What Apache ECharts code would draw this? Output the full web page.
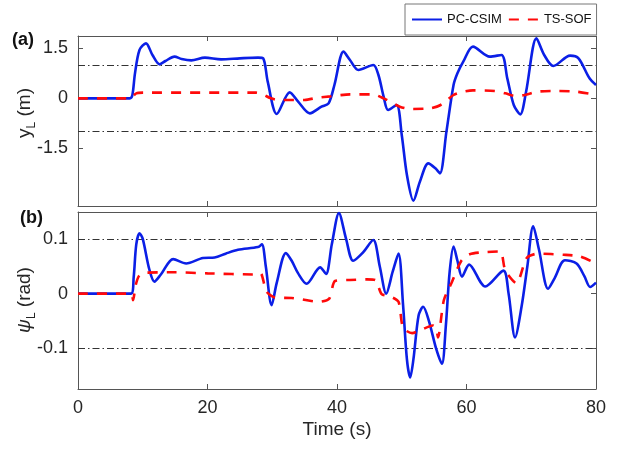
<!DOCTYPE html>
<html>
<head>
<meta charset="utf-8">
<script src="https://cdn.jsdelivr.net/npm/echarts@6/dist/echarts.min.js"></script>
<style>
  html, body { margin: 0; padding: 0; background: #fff; }
  #chart { width: 621px; height: 451px; }
</style>
</head>
<body>
<div id="chart"></div>
<script>
// (a) lateral offset y_L (m)
const tCsimA = [0, 8, 8.4, 8.8, 9.5, 10.5, 11.5, 12.6, 13.5, 14.9, 16, 17.5, 19.6, 22.1, 25, 27.8, 28.6, 29.3, 30.7, 32.7, 34, 35.8, 37.6, 38.7, 39.6, 41.0, 42, 43.3, 45.6, 46.4, 47.2, 47.9, 49.2, 50.0, 50.8, 51.8, 52.8, 54.1, 55.2, 55.9, 56.9, 58.0, 58.6, 59.5, 61.0, 63.6, 65.4, 66.3, 67.3, 68.3, 69.2, 70.8, 72, 73.4, 76.0, 77.3, 79, 80];
const yCsimA = [0, 0, 0.1, 0.75, 1.45, 1.65, 1.3, 1.02, 1.12, 1.25, 1.18, 1.14, 1.22, 1.17, 1.2, 1.22, 1.2, 0.5, -0.47, 0.18, -0.1, -0.45, -0.25, -0.15, 0.4, 1.4, 1.15, 0.85, 1.0, 0.7, 0.05, -0.35, -0.2, -1.1, -2.3, -3.07, -2.5, -1.95, -2.1, -2.25, -1.0, 0.4, 0.75, 1.1, 1.55, 1.25, 1.3, 0.6, -0.2, -0.48, 0.2, 1.8, 1.3, 0.97, 1.28, 1.2, 0.6, 0.4];
const tSofA = [0, 8, 9, 10, 27.5, 28.5, 29.8, 31, 35, 37, 39, 42, 45.5, 47.2, 49.7, 51.5, 54.4, 56, 58, 59.5, 61, 64.5, 66, 67.5, 69, 71, 74, 77, 80];
const ySofA = [0, 0, 0.15, 0.17, 0.17, 0.12, 0, -0.05, -0.05, 0.02, 0.06, 0.12, 0.12, 0, -0.25, -0.32, -0.3, -0.2, 0.1, 0.2, 0.24, 0.22, 0.15, 0.07, 0.1, 0.2, 0.22, 0.2, 0.1];

// (b) heading error psi_L (rad)
const tCsimB = [0, 8.2, 8.6, 9.0, 9.5, 10, 11, 11.8, 12.8, 14.7, 16.7, 19.3, 21.1, 22.8, 24.7, 27.8, 28.4, 29, 29.9, 30.7, 32.1, 33, 34.0, 35.3, 37.4, 38.3, 39.2, 40.3, 41.4, 42.5, 44, 45.6, 46.6, 47.6, 48.6, 49.5, 50.2, 50.8, 51.3, 51.8, 52.6, 53.3, 54.2, 55.3, 56.2, 56.8, 57.4, 58.0, 58.6, 59.3, 60.4, 62.9, 65.7, 66.5, 67.5, 68.5, 69.4, 70.3, 71.2, 72.6, 73.6, 75.2, 77, 78.2, 79.1, 80];
const yCsimB = [0, 0, 0.03, 0.09, 0.11, 0.1, 0.045, 0.022, 0.035, 0.063, 0.055, 0.065, 0.066, 0.073, 0.08, 0.085, 0.09, 0.05, -0.021, 0.02, 0.074, 0.06, 0.037, 0.018, 0.048, 0.036, 0.09, 0.147, 0.1, 0.06, 0.075, 0.098, 0.05, 0.0, 0.04, 0.073, -0.02, -0.12, -0.153, -0.12, -0.04, -0.024, -0.05, -0.1, -0.128, -0.06, 0.04, 0.086, 0.06, 0.031, 0.053, 0.013, 0.042, 0.0, -0.08, -0.024, 0.05, 0.123, 0.08, 0.009, 0.028, 0.061, 0.055, 0.032, 0.012, 0.02];
const tSofB = [0, 8.2, 8.5, 8.9, 9.4, 10.2, 15, 20, 27.5, 28.2, 29.1, 30.4, 33, 34.3, 37.2, 38.8, 39.7, 42, 44.6, 45.9, 46.9, 48.2, 49.5, 50.2, 51.6, 53, 54.8, 55.3, 55.6, 56.5, 57.7, 59.2, 60.5, 63.1, 65.2, 66.0, 67.7, 69.3, 71, 75, 77.5, 80];
const ySofB = [0, 0, -0.012, 0.015, 0.032, 0.038, 0.039, 0.037, 0.035, 0.037, 0.004, -0.007, -0.008, -0.01, -0.015, -0.009, 0.023, 0.025, 0.026, 0.025, -0.001, -0.005, -0.015, -0.062, -0.072, -0.066, -0.058, -0.062, -0.08, -0.012, 0.02, 0.06, 0.072, 0.076, 0.077, 0.042, 0.019, 0.065, 0.073, 0.071, 0.068, 0.055];

const timeTicks = [0, 20, 40, 60, 80];
const yTicksA = [-1.5, 0, 1.5];
const yTicksB = [-0.1, 0, 0.1];
const limitsA = [-1, 1];
const limitsB = [-0.1, 0.1];

const font = '"Liberation Sans", Arial, Helvetica, sans-serif';
const frame = '#555';
const txt = '#262626';

const pairs = (t, v) => t.map((x, i) => [x, v[i]]);

const timeAxis = (grid, pos, labels) => ({
    type: 'value', gridIndex: grid, position: pos,
    min: timeTicks[0], max: timeTicks[timeTicks.length - 1], interval: 20,
    axisLine: { show: true, onZero: false, lineStyle: { color: frame, width: 1 } },
    axisTick: { show: true, inside: true, length: 5, lineStyle: { color: frame } },
    axisLabel: { show: labels, margin: 10, color: txt, fontSize: 18, fontFamily: font },
    splitLine: { show: false }
});

const valueAxis = (grid, pos, min, max, ticks, labels) => ({
    type: 'value', gridIndex: grid, position: pos,
    min: min, max: max,
    axisLine: { show: true, onZero: false, lineStyle: { color: frame, width: 1 } },
    axisTick: { show: true, inside: true, length: 5, customValues: ticks, lineStyle: { color: frame } },
    axisLabel: { show: labels, margin: 10, customValues: ticks, color: txt, fontSize: 18, fontFamily: font },
    splitLine: { show: false }
});

const limitLines = (vals) => ({
    silent: true, symbol: 'none', z: 1,
    label: { show: false },
    lineStyle: { color: '#333', width: 1, type: [7, 3, 1.5, 3] },
    data: vals.map(v => ({ yAxis: v }))
});

const csim = (x, y, data, limits) => ({
    name: 'PC-CSIM', type: 'line', xAxisIndex: x, yAxisIndex: y,
    data: data, smooth: 0.3, symbol: 'none', z: 3,
    lineStyle: { color: '#0b1fe6', width: 2.6 },
    itemStyle: { color: '#0b1fe6' },
    markLine: limitLines(limits)
});

const sof = (x, y, data) => ({
    name: 'TS-SOF', type: 'line', xAxisIndex: x, yAxisIndex: y,
    data: data, smooth: 0.25, symbol: 'none', z: 4,
    lineStyle: { color: '#ff0a0a', width: 2.6, type: [10, 9] },
    itemStyle: { color: '#ff0a0a' }
});

const label = (x, y, main, sub, unit, italic) => ({
    type: 'text', x: x, y: y, rotation: Math.PI / 2,
    style: {
        text: '{m|' + main + '}{s|' + sub + '}{u| ' + unit + '}',
        align: 'center', verticalAlign: 'middle',
        textAlign: 'center', textVerticalAlign: 'middle',
        rich: {
            m: { fontSize: 19, fontFamily: font, fill: txt, fontStyle: italic ? 'italic' : 'normal', lineHeight: 20 },
            s: { fontSize: 12, fontFamily: font, fill: txt, lineHeight: 12, padding: [14, 0, 0, 0] },
            u: { fontSize: 19, fontFamily: font, fill: txt, lineHeight: 20 }
        }
    }
});

const chart = echarts.init(document.getElementById('chart'));
const option = {
    animation: false,
    backgroundColor: '#fff',
    grid: [
        { left: 78, right: 25, top: 36, height: 170 },
        { left: 78, right: 25, top: 212, height: 177 }
    ],
    legend: {
        data: ['PC-CSIM', 'TS-SOF'],
        left: 405, top: 4,
        padding: [9, 5, 9, 6], itemGap: 6,
        itemWidth: 30, itemHeight: 12,
        itemStyle: { opacity: 0, borderWidth: 0 },
        backgroundColor: '#fff', borderColor: '#777', borderWidth: 1,
        textStyle: { fontSize: 13, color: '#111', fontFamily: font }
    },
    xAxis: [
        timeAxis(0, 'bottom', false),
        timeAxis(0, 'top', false),
        Object.assign(timeAxis(1, 'bottom', true), {
            name: 'Time (s)', nameLocation: 'middle', nameGap: 31,
            nameTextStyle: { fontSize: 19, color: txt, fontFamily: font }
        }),
        timeAxis(1, 'top', false)
    ],
    yAxis: [
        valueAxis(0, 'left', -3.23, 1.87, yTicksA, true),
        valueAxis(0, 'right', -3.23, 1.87, yTicksA, false),
        valueAxis(1, 'left', -0.174, 0.149, yTicksB, true),
        valueAxis(1, 'right', -0.174, 0.149, yTicksB, false)
    ],
    series: [
        csim(0, 0, pairs(tCsimA, yCsimA), limitsA),
        sof(0, 0, pairs(tSofA, ySofA)),
        csim(2, 2, pairs(tCsimB, yCsimB), limitsB),
        sof(2, 2, pairs(tSofB, ySofB))
    ],
    graphic: [
        { type: 'text', left: 12, top: 31, style: { text: '(a)', fontSize: 18, fontWeight: 'bold', fontFamily: font, fill: '#111' } },
        { type: 'text', left: 20, top: 209, style: { text: '(b)', fontSize: 18, fontWeight: 'bold', fontFamily: font, fill: '#111' } },
        label(25, 113, 'y', 'L', '(m)', false),
        label(25, 300, 'ψ', 'L', '(rad)', true)
    ]
};
chart.setOption(option);
window.addEventListener('resize', function () {
    chart.resize();
});
</script>
</body>
</html>
